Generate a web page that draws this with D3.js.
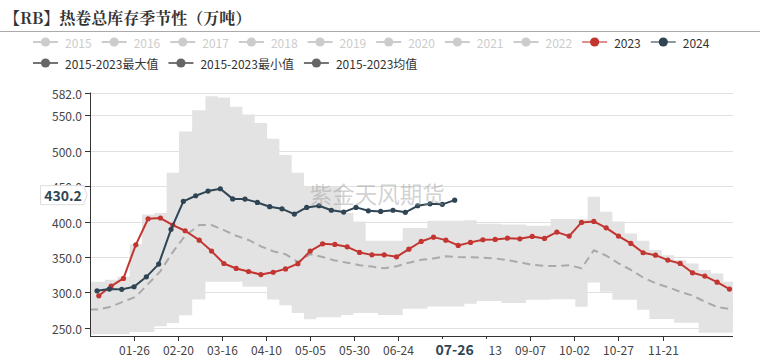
<!DOCTYPE html>
<html><head><meta charset="utf-8">
<script src="https://cdn.jsdelivr.net/npm/d3@7/dist/d3.min.js"></script>
<style>body{margin:0;background:#fff}svg{display:block}</style>
</head><body><svg id="c" width="760" height="361"></svg>
<script>
const title = "【RB】热卷总库存季节性（万吨）";
const legendYears = ["2015","2016","2017","2018","2019","2020","2021","2022","2023","2024"];
const legendColors = {"2023":"#c23531","2024":"#2f4554"};
const statNames = ["2015-2023最大值","2015-2023最小值","2015-2023均值"];
const yTicks = [250,300,350,400,450,500,550,582];
const xTickLabels = ["01-26","02-20","03-16","04-10","05-05","05-30","06-24","07-19","08-13","09-07","10-02","10-27","11-21"];

const dates2023 = ["01-06","01-13","01-20","01-27","02-03","02-10","02-17","02-24","03-03","03-10","03-17","03-24","03-31","04-07","04-14","04-21","04-28","05-05","05-12","05-19","05-26","06-02","06-09","06-16","06-23","06-30","07-07","07-14","07-21","07-28","08-04","08-11","08-18","08-25","09-01","09-08","09-15","09-22","09-29","10-06","10-13","10-20","10-27","11-03","11-10","11-17","11-24","12-01","12-08","12-15","12-22","12-29"];
const values2023 = [295.2,309,319.8,367.2,404,405,395,387,373.8,358.3,340.8,333.8,329.5,325.2,328.5,333.2,340.6,358.3,368.6,367.7,364.4,356.4,353,353,350.2,361,371.9,378,373.8,366.3,370.6,374.3,374.8,376.6,375.7,379,376.2,385.1,379.5,398.8,400.2,391.2,379.5,369.2,356,352.6,345.6,340.9,327.7,323,314.5,304.7];

const dates2024 = ["01-05","01-12","01-19","01-26","02-02","02-09","02-16","02-23","03-01","03-08","03-15","03-22","03-29","04-05","04-12","04-19","04-26","05-03","05-10","05-17","05-24","05-31","06-07","06-14","06-21","06-28","07-05","07-12","07-19","07-26"];
const values2024 = [302.3,304.7,304.3,308,322,340,389,428.5,436.4,443,446.3,432,431.7,427,421,418,410.5,420,422.3,416,413.4,420,415.2,414.3,416,413,422.3,425.1,424.3,430.2];

// 2015-2023 statistics, on the 2023 weekly dates
const maxValues = [315,318,322,368,410,412,469,527,557,577,575,562,551,539,517,494,469,449,449,449,412,400,373,373,373,391,391,401,401,401,402,397,397,396,396,394,394,403.5,403.5,403.5,435,414,400,383,373,359.7,352.6,345.6,340.9,331.5,326.8,315];
const minValues = [241,241,241,244,244,252.4,257,267.8,290,315,315,315,308,308,290,282,271,262,265,265,268,271,271,268,268,277,277,280,280,280,284,288,288,285,285,289.6,289.6,290.5,290.5,279.7,314,301,289.6,289.6,275.5,262.4,262.4,257.3,257.3,243,243,243];
const meanValues = [276,280,287,294,312,330,357,380,395,395,388,380,374,365,358,354,343,354,350,345,342,338.5,336.5,334,337,342,346,348,351,350,349.5,349,348,345.6,342.5,339,337.3,337.3,338.5,334,359.5,352,341,332,321,313,307.5,301,295.5,287,279.5,276.8];

const pointerDate = "07-26";
const pointerValue = 430.2;
const watermark = "紫金天风期货";
const watermarkDate = "06-12";

const svg = d3.select("#c");
const FONT = "'Noto Sans CJK SC','Noto Sans',sans-serif";

// category axis of all days of a (leap) year
const fmt = d3.timeFormat("%m-%d");
const days = d3.timeDay.range(new Date(2024,0,1), new Date(2025,0,1)).map(fmt);
const x = d3.scalePoint().domain(days).range([90, 733]);
const y = d3.scaleLinear().domain([238.5, 582]).range([336, 92.6]);

// Title
svg.append("text").attr("x",4).attr("y",17.5).attr("dominant-baseline","central")
  .attr("font-family","'Noto Serif CJK SC','Noto Sans CJK SC',serif").attr("font-weight","bold")
  .attr("font-size",16).attr("fill","#333").text(title);
svg.append("line").attr("x1",0).attr("x2",760).attr("y1",31.5).attr("y2",31.5)
  .attr("stroke","#aaa").attr("stroke-width",1);

// Legend
function legendItem(g, x0, cy, label, color, active, lineOpacity){
  g.append("line").attr("x1",x0).attr("x2",x0+25).attr("y1",cy).attr("y2",cy)
    .attr("stroke",color).attr("stroke-width",2).attr("stroke-opacity",lineOpacity);
  g.append("circle").attr("cx",x0+12.5).attr("cy",cy).attr("r",4.6).attr("fill",color);
  const t = g.append("text").attr("x",x0+32).attr("y",cy).attr("dominant-baseline","central")
    .attr("font-family",FONT).attr("font-size",12).attr("fill",active?"#333":"#ccc").text(label);
  return x0 + 32 + t.node().getComputedTextLength() + 10;
}
const lg = svg.append("g");
let lx = 33;
legendYears.forEach(yr=>{
  const c = legendColors[yr];
  lx = legendItem(lg, lx, 42, yr, c||"#ccc", !!c, c?0.55:1);
});
lx = 33;
statNames.forEach(n=>{ lx = legendItem(lg, lx, 63, n, "#666", true, 0.9); });

// Grid
const gg = svg.append("g");
yTicks.forEach(v=>{
  gg.append("line").attr("x1",90).attr("x2",733).attr("y1",Math.round(y(v))+0.5).attr("y2",Math.round(y(v))+0.5)
    .attr("stroke","#e0e0e0").attr("stroke-width",1);
});

// Band (max/min) with step shape, extended to the axis edges
const bandData = dates2023.map((d,i)=>({x:x(d), hi:maxValues[i], lo:minValues[i]}));
const bandExt = [{x:x.range()[0], hi:maxValues[0], lo:minValues[0]}, ...bandData,
                 {x:x.range()[1], hi:maxValues[maxValues.length-1], lo:minValues[minValues.length-1]}];
svg.append("path").datum(bandExt)
  .attr("d", d3.area().curve(d3.curveStep).x(d=>d.x).y0(d=>y(d.lo)).y1(d=>y(d.hi)))
  .attr("fill","#e3e3e3");

// Mean dashed line
const meanData = dates2023.map((d,i)=>[x(d), y(meanValues[i])]);
const meanExt = [[x.range()[0], y(meanValues[0])], ...meanData, [x.range()[1], y(meanValues[meanValues.length-1])]];
svg.append("path").datum(meanExt).attr("d", d3.line())
  .attr("fill","none").attr("stroke","#aaa").attr("stroke-width",2).attr("stroke-dasharray","8,5");

// Series lines
function series(dates, vals, color){
  const pts = dates.map((d,i)=>[x(d), y(vals[i])]);
  svg.append("path").datum(pts).attr("d", d3.line())
    .attr("fill","none").attr("stroke",color).attr("stroke-width",2).attr("stroke-linejoin","round");
  svg.append("g").selectAll("circle").data(pts).join("circle")
    .attr("cx",d=>d[0]).attr("cy",d=>d[1]).attr("r",2.6).attr("fill",color);
}
series(dates2023, values2023, legendColors["2023"]);
series(dates2024, values2024, legendColors["2024"]);

// Watermark
svg.append("text").attr("x",x(watermarkDate)).attr("y",y(440)).attr("text-anchor","middle")
  .attr("dominant-baseline","central").attr("font-family",FONT).attr("font-size",22.5)
  .attr("fill","#999").attr("fill-opacity",0.45).text(watermark);

// Axes
const ax = svg.append("g").attr("font-family",FONT);
ax.append("line").attr("x1",90.5).attr("x2",90.5).attr("y1",y(582)).attr("y2",336).attr("stroke","#333");
yTicks.forEach(v=>{
  const yy = Math.round(y(v))+0.5;
  ax.append("line").attr("x1",85).attr("x2",90).attr("y1",yy).attr("y2",yy).attr("stroke","#333");
  ax.append("text").attr("x",82).attr("y",yy).attr("text-anchor","end").attr("dominant-baseline","central")
    .attr("font-size",12).attr("fill","#444").text(d3.format(".1f")(v));
});
ax.append("line").attr("x1",90).attr("x2",733).attr("y1",336.5).attr("y2",336.5).attr("stroke","#333");
const px = x(pointerDate);
xTickLabels.forEach(lbl=>{
  const xx = Math.round(x(lbl))+0.5;
  ax.append("line").attr("x1",xx).attr("x2",xx).attr("y1",336).attr("y2",341).attr("stroke","#333");
  // labels hidden under the pointer label are not drawn
  if (Math.abs(x(lbl) - px) > 20) {
    ax.append("text").attr("x",xx).attr("y",349).attr("text-anchor","middle").attr("dominant-baseline","central")
      .attr("font-size",12).attr("fill","#444").text(lbl);
  }
});

// Axis pointer labels
ax.append("rect").attr("x",px-31).attr("y",339).attr("width",65.5).attr("height",20).attr("fill","#fff");
ax.append("text").attr("x",px).attr("y",349).attr("text-anchor","middle").attr("dominant-baseline","central")
  .attr("font-size",14).attr("font-weight","bold").attr("fill","#2f4554").text(pointerDate);

const py = y(pointerValue) - 5;
ax.append("path").attr("d",`M40.5,${py-9.5}H83.5L87,${py}L83.5,${py+9.5}H40.5Z`)
  .attr("fill","#fff").attr("stroke","#ddd");
ax.append("text").attr("x",63).attr("y",py).attr("text-anchor","middle").attr("dominant-baseline","central")
  .attr("font-size",14).attr("font-weight","bold").attr("fill","#2f4554").text(d3.format(".1f")(pointerValue));
</script></body></html>
